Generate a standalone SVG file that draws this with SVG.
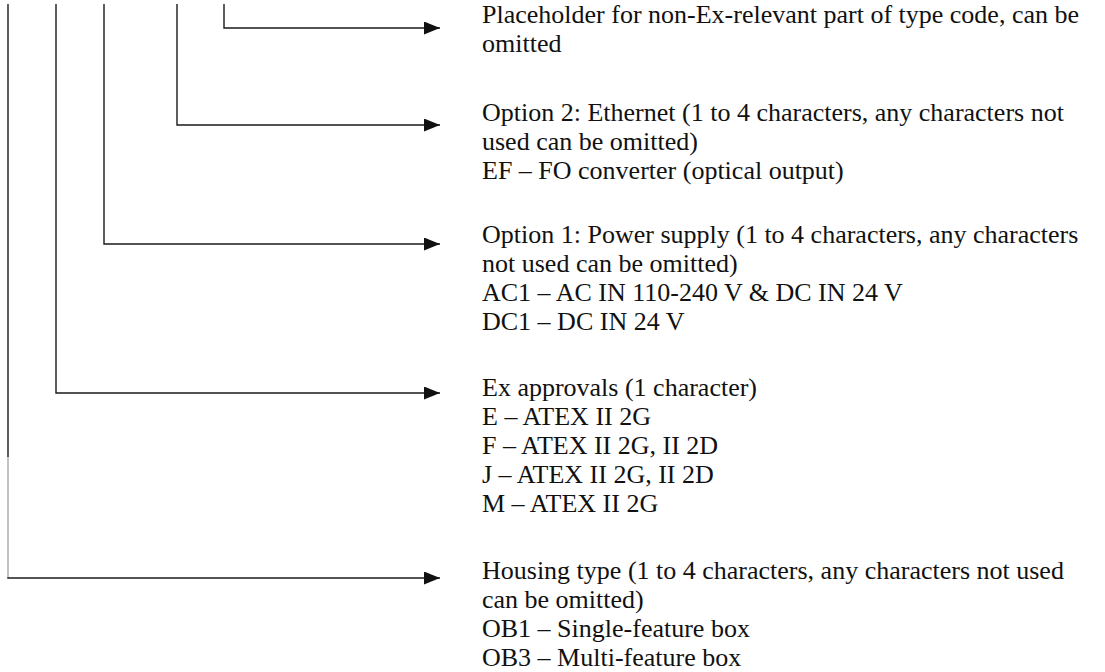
<svg xmlns="http://www.w3.org/2000/svg" width="1105" height="672" viewBox="0 0 1105 672">
<defs>
<marker id="ah" markerWidth="16" markerHeight="13" refX="16" refY="6.5" orient="auto" markerUnits="userSpaceOnUse">
<path d="M0,0 L16,6.5 L0,13 Z" fill="#111"/>
</marker>
<style>
.ln{fill:none;stroke:#1a1a1a;stroke-width:1.4}
.fade{fill:none;stroke:#a8a8a8;stroke-width:1.4}
.t{font-family:"Liberation Serif","Times New Roman",serif;font-size:26px;fill:#111}
</style>
</defs>
<rect width="1105" height="672" fill="#fff"/>
<g id="connectors">
<polyline class="ln" points="224,4 224,28 440,28" marker-end="url(#ah)"/>
<polyline class="ln" points="177,4 177,125 440,125" marker-end="url(#ah)"/>
<polyline class="ln" points="104,4 104,244 440,244" marker-end="url(#ah)"/>
<polyline class="ln" points="56,4 56,393 440,393" marker-end="url(#ah)"/>
<line class="ln" x1="8" y1="4" x2="8" y2="457"/>
<line class="fade" x1="8" y1="457" x2="8" y2="578"/>
<line class="ln" x1="7.3" y1="578" x2="440" y2="578" marker-end="url(#ah)"/>
</g>
<g id="placeholder">
<text class="t" x="482" y="23">Placeholder for non-Ex-relevant part of type code, can be</text>
<text class="t" x="482" y="52">omitted</text>
</g>
<g id="option2">
<text class="t" x="482" y="121">Option 2: Ethernet (1 to 4 characters, any characters not</text>
<text class="t" x="482" y="150">used can be omitted)</text>
<text class="t" x="482" y="179">EF – FO converter (optical output)</text>
</g>
<g id="option1">
<text class="t" x="482" y="243">Option 1: Power supply (1 to 4 characters, any characters</text>
<text class="t" x="482" y="272">not used can be omitted)</text>
<text class="t" x="482" y="301">AC1 – AC IN 110-240 V &amp; DC IN 24 V</text>
<text class="t" x="482" y="330">DC1 – DC IN 24 V</text>
</g>
<g id="ex-approvals">
<text class="t" x="482" y="396">Ex approvals (1 character)</text>
<text class="t" x="482" y="425">E – ATEX II 2G</text>
<text class="t" x="482" y="454">F – ATEX II 2G, II 2D</text>
<text class="t" x="482" y="483">J – ATEX II 2G, II 2D</text>
<text class="t" x="482" y="512">M – ATEX II 2G</text>
</g>
<g id="housing">
<text class="t" x="482" y="579">Housing type (1 to 4 characters, any characters not used</text>
<text class="t" x="482" y="608">can be omitted)</text>
<text class="t" x="482" y="637">OB1 – Single-feature box</text>
<text class="t" x="482" y="666">OB3 – Multi-feature box</text>
</g>
</svg>
